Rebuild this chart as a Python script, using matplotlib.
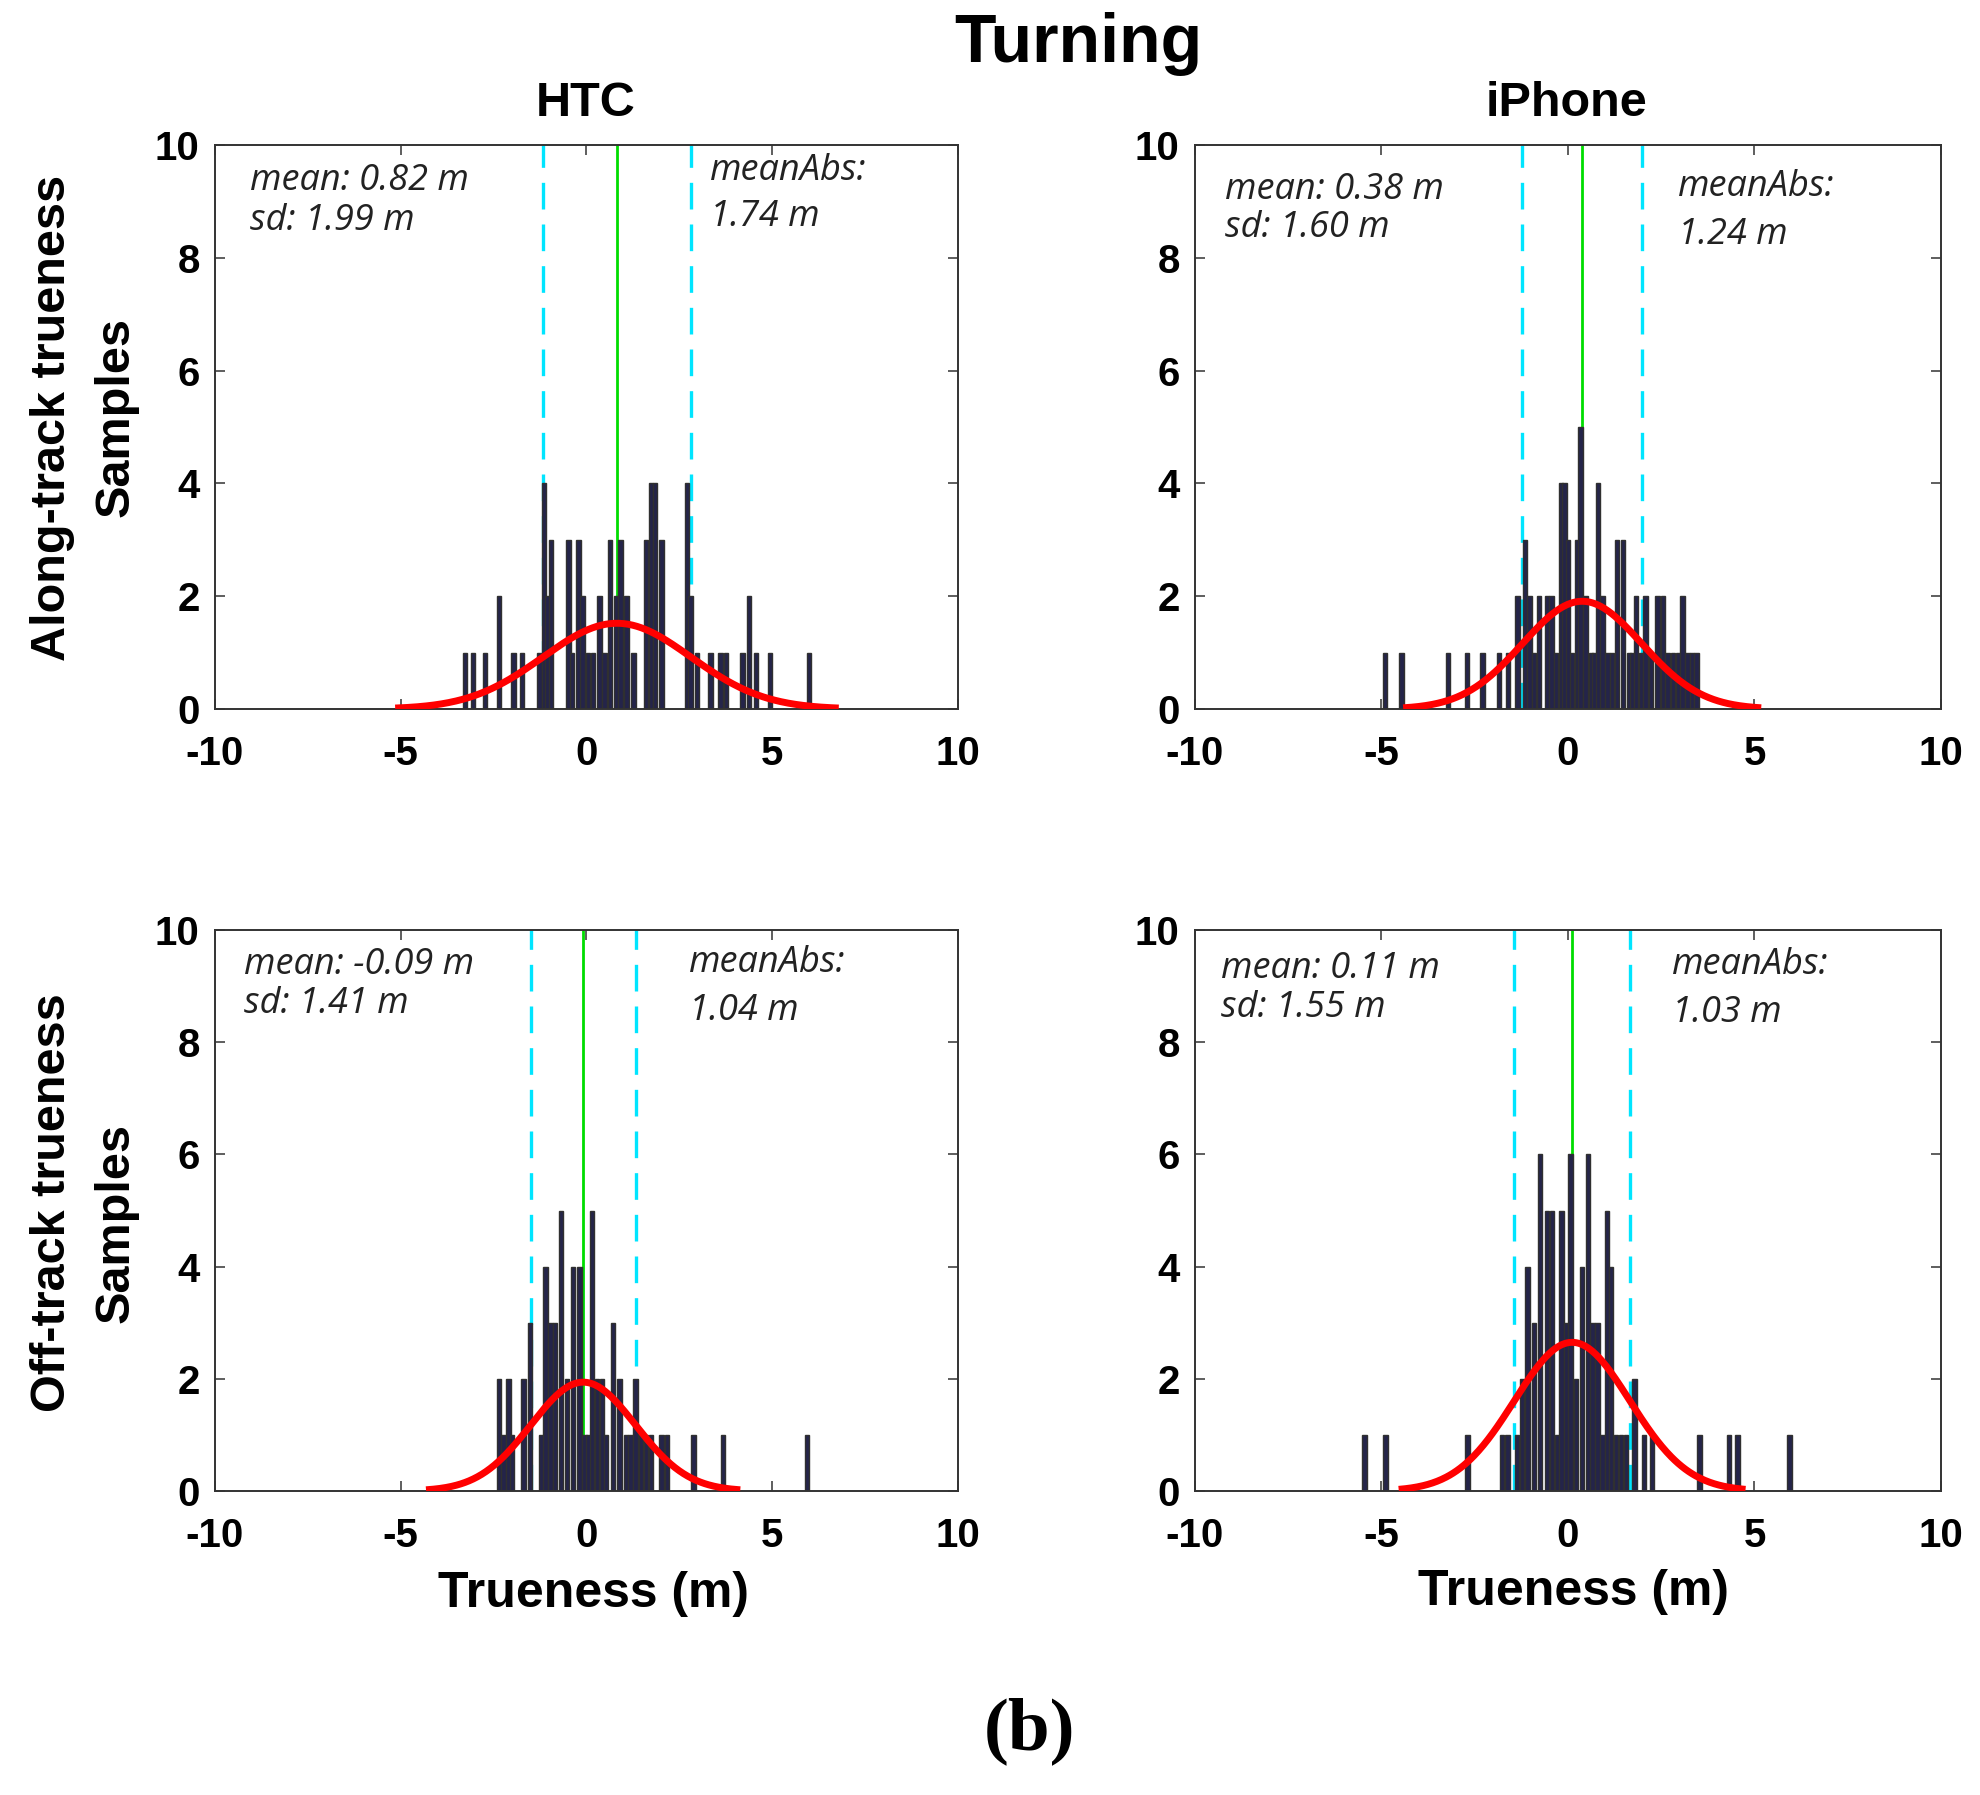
import numpy as np
import matplotlib
matplotlib.use("Agg")
import matplotlib.pyplot as plt

plt.rcParams["axes.unicode_minus"] = False

# ---- data (bar centres in m, counts) ----
htc_along_x = [-3.27, -3.05, -2.73, -2.36, -1.97, -1.73, -1.26, -1.15, -1.05, -0.96,
               -0.49, -0.39, -0.21, -0.11, 0.04, 0.17, 0.35, 0.49, 0.63, 0.79,
               0.92, 1.08, 1.26, 1.60, 1.73, 1.84, 2.02, 2.70, 2.80, 2.97,
               3.34, 3.61, 3.76, 4.20, 4.37, 4.56, 4.94, 5.99]
htc_along_n = [1, 1, 1, 2, 1, 1, 1, 4, 2, 3,
               3, 1, 3, 2, 1, 1, 2, 1, 3, 2,
               3, 2, 1, 3, 4, 4, 3, 4, 2, 1,
               1, 1, 1, 1, 2, 1, 1, 1]

iphone_along_x = [-4.90, -4.47, -3.22, -2.71, -2.29, -1.85, -1.61, -1.36, -1.15, -1.03,
                  -0.91, -0.78, -0.56, -0.44, -0.32, -0.19, -0.10, 0.00, 0.11, 0.24,
                  0.34, 0.47, 0.61, 0.71, 0.81, 0.92, 1.06, 1.18, 1.32, 1.47,
                  1.63, 1.72, 1.82, 1.96, 2.08, 2.23, 2.40, 2.54, 2.67, 2.81,
                  2.95, 3.07, 3.20, 3.33, 3.44]
iphone_along_n = [1, 1, 1, 1, 1, 1, 1, 2, 3, 2,
                  1, 2, 2, 2, 1, 4, 4, 3, 1, 3,
                  5, 2, 1, 1, 4, 2, 1, 1, 3, 3,
                  1, 1, 2, 1, 2, 1, 2, 2, 1, 1,
                  1, 2, 1, 1, 1]

htc_off_x = [-2.36, -2.24, -2.10, -2.01, -1.70, -1.52, -1.21, -1.10, -0.97, -0.85,
             -0.69, -0.53, -0.36, -0.19, -0.05, 0.05, 0.15, 0.28, 0.41, 0.53,
             0.71, 0.89, 1.06, 1.19, 1.32, 1.46, 1.60, 1.73, 2.02, 2.16,
             2.88, 3.68, 5.94]
htc_off_n = [2, 1, 2, 1, 2, 3, 1, 4, 3, 3,
             5, 2, 4, 4, 1, 1, 5, 2, 2, 1,
             3, 2, 1, 1, 2, 1, 1, 1, 1, 1,
             1, 1, 1]

iphone_off_x = [-5.46, -4.89, -2.70, -1.77, -1.62, -1.37, -1.23, -1.09, -0.91, -0.75,
                -0.56, -0.43, -0.30, -0.18, -0.05, 0.07, 0.22, 0.37, 0.53, 0.66,
                0.79, 0.92, 1.04, 1.15, 1.28, 1.42, 1.55, 1.78, 2.04, 2.25,
                3.52, 4.32, 4.55, 5.94]
iphone_off_n = [1, 1, 1, 1, 1, 1, 2, 4, 3, 6,
                5, 5, 1, 5, 3, 6, 2, 4, 6, 3,
                3, 1, 5, 4, 1, 1, 1, 2, 1, 1,
                1, 1, 1, 1]

means = [0.82, 0.38, -0.09, 0.11]
sds = [1.99, 1.60, 1.41, 1.55]
mean_abs = [1.74, 1.24, 1.04, 1.03]
fit_peaks = [1.52, 1.91, 1.94, 2.65]   # height of the fitted normal curve

panel_x = [htc_along_x, iphone_along_x, htc_off_x, iphone_off_x]
panel_n = [htc_along_n, iphone_along_n, htc_off_n, iphone_off_n]

# annotation positions in data coords: (mean/sd x, mean y, sd y, meanAbs x, label y, value y)
text_pos = [(-9.06, 9.36, 8.65, 3.32, 9.54, 8.72),
            (-9.19, 9.21, 8.52, 2.95, 9.26, 8.40),
            (-9.22, 9.37, 8.68, 2.75, 9.42, 8.56),
            (-9.29, 9.30, 8.61, 2.78, 9.37, 8.52)]

W, H = 1981, 1795
SANS = "Liberation Sans"
ITAL = "Open Sans"

fig = plt.figure(figsize=(W / 100, H / 100), dpi=100)


def fx(px):
    return px / W


def fy(py):
    return 1 - py / H


# axes boxes in pixels (left, top, right, bottom)
boxes = [(215, 145, 958, 709), (1195, 145, 1941, 709),
         (215, 930, 958, 1491), (1195, 930, 1941, 1491)]

for i, (l, t, r, b) in enumerate(boxes):
    ax = fig.add_axes([fx(l), fy(b), (r - l) / W, (b - t) / H])
    m, s = means[i], sds[i]
    ax.axvline(m - s, color="#00e5ff", lw=2.4, dashes=(8, 4.5), zorder=1)
    ax.axvline(m + s, color="#00e5ff", lw=2.4, dashes=(8, 4.5), zorder=1)
    ax.axvline(m, color="#00dd00", lw=2.0, zorder=1)
    ax.bar(panel_x[i], panel_n[i], width=0.12, color="#24244a",
           edgecolor="#303030", linewidth=1.0, zorder=2)
    xs = np.linspace(m - 3 * s, m + 3 * s, 300)
    ax.plot(xs, fit_peaks[i] * np.exp(-0.5 * ((xs - m) / s) ** 2),
            color="#ff0000", lw=5.0, zorder=3, solid_capstyle="butt")

    ax.set_xlim(-10, 10)
    ax.set_ylim(0, 10)
    ax.set_xticks([-10, -5, 0, 5, 10])
    ax.set_yticks([0, 2, 4, 6, 8, 10])
    ax.tick_params(direction="in", length=7, width=1.1, top=True, right=True,
                   color="#333333", labelsize=22)
    ax.tick_params(axis="x", pad=19)
    ax.tick_params(axis="y", pad=11)
    for lab in ax.get_xticklabels() + ax.get_yticklabels():
        lab.set_fontfamily(SANS)
        lab.set_fontweight("bold")
        lab.set_fontsize(29)
    for sp in ax.spines.values():
        sp.set_color("#333333")
        sp.set_linewidth(1.4)

    tx, ty1, ty2, ax2, ay1, ay2 = text_pos[i]
    kw = dict(family=ITAL, style="italic", fontsize=26, color="#222222",
              ha="left", va="center")
    ax.text(tx, ty1, f"mean: {m:.2f} m", **kw)
    ax.text(tx, ty2, f"sd: {s:.2f} m", **kw)
    ax.text(ax2, ay1, "meanAbs:", **kw)
    ax.text(ax2, ay2, f"{mean_abs[i]:.2f} m", **kw)

# titles and labels
fig.text(fx(1078), fy(44), "Turning", family=SANS, weight="bold", fontsize=49,
         ha="center", va="center")
fig.text(fx(586), fy(104), "HTC", family=SANS, weight="bold", fontsize=35,
         ha="center", va="center")
fig.text(fx(1567), fy(104), "iPhone", family=SANS, weight="bold", fontsize=35,
         ha="center", va="center")

fig.text(fx(53), fy(418), "Along-track trueness", family=SANS, weight="bold",
         fontsize=35, rotation=90, ha="center", va="center")
fig.text(fx(116), fy(417), "Samples", family=SANS, weight="bold",
         fontsize=35, rotation=90, ha="center", va="center")
fig.text(fx(53), fy(1203), "Off-track trueness", family=SANS, weight="bold",
         fontsize=35, rotation=90, ha="center", va="center")
fig.text(fx(116), fy(1223), "Samples", family=SANS, weight="bold",
         fontsize=35, rotation=90, ha="center", va="center")

fig.text(fx(594), fy(1594), "Trueness (m)", family=SANS, weight="bold",
         fontsize=36, ha="center", va="center")
fig.text(fx(1574), fy(1592), "Trueness (m)", family=SANS, weight="bold",
         fontsize=36, ha="center", va="center")

fig.text(fx(1030), fy(1731), "(b)", family="Liberation Serif", weight="bold",
         fontsize=54, ha="center", va="center")

fig.savefig("out.png", dpi=100)
